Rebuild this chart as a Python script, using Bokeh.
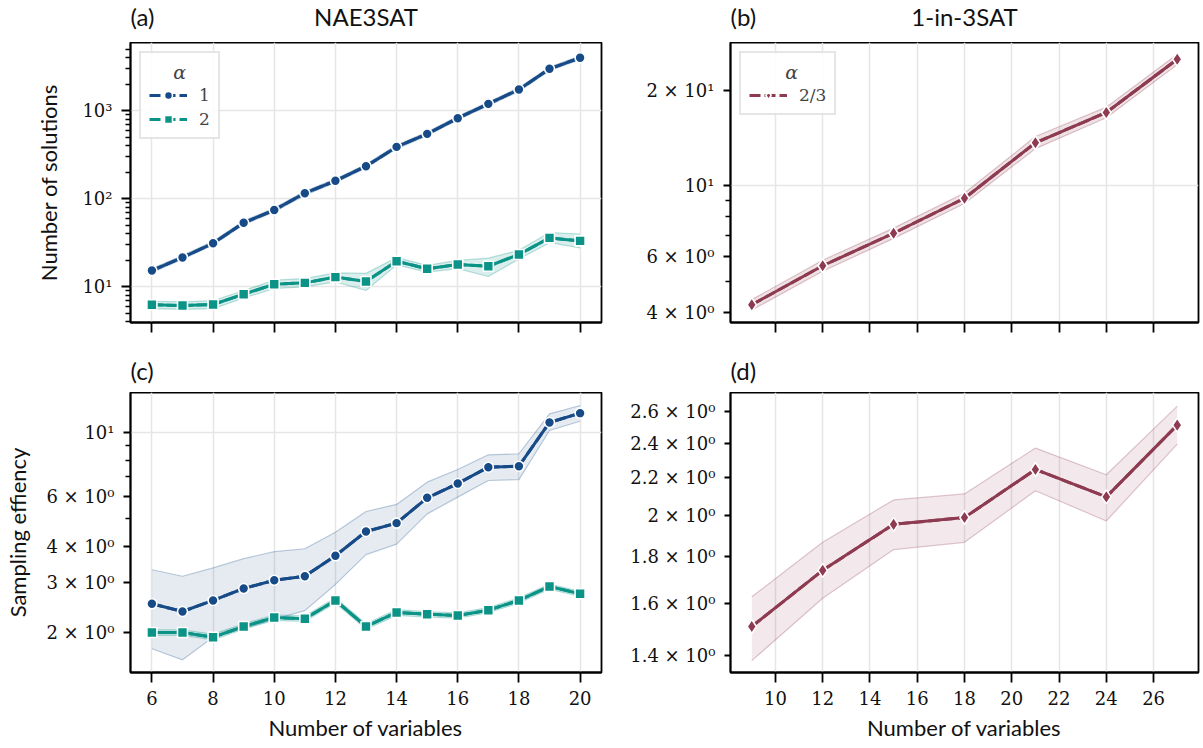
from bokeh.plotting import figure
from bokeh.models import FixedTicker, Range1d, Legend, LegendItem, Label
from bokeh.layouts import gridplot
from bokeh.embed import file_html
from bokeh.resources import INLINE

# ---------------- data ----------------
nae_n = [6, 7, 8, 9, 10, 11, 12, 13, 14, 15, 16, 17, 18, 19, 20]
# (a) number of solutions, NAE3SAT
sol_a1 = [15.2, 21.4, 31.0, 53.0, 74.0, 115, 159, 233, 386, 543, 818, 1191, 1733, 2978, 3975]
sol_a1_lo = [14.4, 20.4, 29.6, 50.5, 70.5, 109, 151, 222, 367, 517, 779, 1134, 1650, 2836, 3786]
sol_a1_hi = [16.0, 22.5, 32.6, 55.7, 77.8, 121, 167, 245, 405, 570, 859, 1251, 1820, 3127, 4174]
sol_a2 = [6.2, 6.08, 6.24, 8.18, 10.6, 11.0, 12.8, 11.4, 19.4, 15.9, 17.8, 17.0, 23.1, 35.7, 33.0]
sol_a2_lo = [5.6, 5.5, 5.6, 7.4, 9.5, 9.9, 11.3, 9.0, 17.6, 14.6, 16.0, 13.0, 20.5, 31.5, 27.5]
sol_a2_hi = [6.8, 6.7, 6.9, 9.0, 11.8, 12.3, 14.3, 14.1, 21.3, 17.4, 19.8, 21.0, 25.8, 41.0, 39.5]
# (c) sampling efficiency, NAE3SAT
eff_a1 = [2.525, 2.374, 2.594, 2.855, 3.052, 3.152, 3.714, 4.514, 4.827, 5.918, 6.637, 7.568, 7.629, 10.84, 11.68]
eff_a1_lo = [1.76, 1.61, 1.93, 2.07, 2.23, 2.39, 2.95, 3.75, 4.08, 5.20, 5.95, 6.80, 6.85, 10.16, 10.95]
eff_a1_hi = [3.32, 3.15, 3.37, 3.63, 3.84, 3.93, 4.49, 5.30, 5.61, 6.71, 7.43, 8.36, 8.43, 11.62, 12.42]
eff_a2 = [2.005, 2.005, 1.931, 2.104, 2.262, 2.238, 2.594, 2.104, 2.355, 2.323, 2.299, 2.399, 2.594, 2.902, 2.737]
eff_a2_lo = [1.96, 1.96, 1.89, 2.06, 2.21, 2.19, 2.54, 2.06, 2.30, 2.27, 2.25, 2.35, 2.54, 2.84, 2.68]
eff_a2_hi = [2.05, 2.05, 1.98, 2.15, 2.31, 2.29, 2.65, 2.15, 2.41, 2.37, 2.35, 2.45, 2.65, 2.96, 2.79]

one_n = [9, 12, 15, 18, 21, 24, 27]
# (b) number of solutions, 1-in-3SAT
sol_b = [4.22, 5.60, 7.09, 9.14, 13.67, 17.03, 25.06]
sol_b_lo = [4.06, 5.38, 6.83, 8.80, 13.1, 16.4, 24.1]
sol_b_hi = [4.38, 5.83, 7.36, 9.50, 14.3, 17.7, 26.0]
# (d) sampling efficiency, 1-in-3SAT
eff_b = [1.508, 1.739, 1.954, 1.988, 2.246, 2.095, 2.513]
eff_b_lo = [1.383, 1.62, 1.833, 1.867, 2.128, 1.971, 2.395]
eff_b_hi = [1.626, 1.867, 2.079, 2.111, 2.371, 2.216, 2.637]

# axis limits and ticks
nae_xlim = (5.3, 20.7)
one_xlim = (8.1, 27.9)
ylim_a = (3.9, 5930)
ylim_b = (3.71, 28.3)
ylim_c = (1.454, 13.79)
ylim_d = (1.342, 2.730)
nae_xticks = [6, 8, 10, 12, 14, 16, 18, 20]
one_xticks = [10, 12, 14, 16, 18, 20, 22, 24, 26]
ticks_a = {10: "10¹", 100: "10²", 1000: "10³"}
minor_a = [4, 5, 6, 7, 8, 9, 20, 30, 40, 50, 60, 70, 80, 90,
           200, 300, 400, 500, 600, 700, 800, 900, 2000, 3000, 4000, 5000]
ticks_b = {4: "4 × 10⁰", 6: "6 × 10⁰", 10: "10¹", 20: "2 × 10¹"}
minor_b = [5, 7, 8, 9]
ticks_c = {2: "2 × 10⁰", 3: "3 × 10⁰", 4: "4 × 10⁰", 6: "6 × 10⁰", 10: "10¹"}
minor_c = [5, 7, 8, 9]
ticks_d = {1.4: "1.4 × 10⁰", 1.6: "1.6 × 10⁰", 1.8: "1.8 × 10⁰", 2.0: "2 × 10⁰",
           2.2: "2.2 × 10⁰", 2.4: "2.4 × 10⁰", 2.6: "2.6 × 10⁰"}

BLUE = "#174b88"
TEAL = "#0a9386"
MAROON = "#8e3b52"
SANS = "Lato"
SERIF = "DejaVu Serif"
NB = "\u00a0"

LW, RW = 615, 585           # column widths
LB, RB = 130, 115           # left borders
LR, RR = 14, 2              # right borders
TOP_H, BOT_H = 313, 352     # main figure heights
T1_H, T2_H = 42, 37         # title strip heights


def make_fig(w, h, xr, yr, bl, br, bb, xticks, yticks, yminor, ygrid, ytick_len):
    p = figure(width=w, height=h, x_range=Range1d(*xr), y_range=Range1d(*yr),
               y_axis_type="log", output_backend="svg", toolbar_location=None,
               min_border_left=bl, min_border_right=br, min_border_top=0,
               min_border_bottom=bb)
    p.outline_line_color = "black"
    p.outline_line_width = 1.8
    p.background_fill_color = "white"
    p.border_fill_color = "white"
    p.xaxis.ticker = FixedTicker(ticks=xticks)
    p.yaxis.ticker = FixedTicker(ticks=list(yticks.keys()), minor_ticks=yminor)
    p.yaxis.major_label_overrides = dict(yticks)
    for ax in p.xaxis + p.yaxis:
        ax.axis_line_color = "black"
        ax.axis_line_width = 1.8
        ax.major_tick_in = 0
        ax.minor_tick_in = 0
        ax.minor_tick_out = 5
        ax.major_tick_line_width = 1.8
        ax.minor_tick_line_width = 1.3
        ax.major_label_text_font = SERIF
        ax.major_label_text_font_size = "18px"
        ax.major_label_text_color = "#111111"
        ax.axis_label_text_font = SANS
        ax.axis_label_text_font_size = "22px"
        ax.axis_label_text_font_style = "normal"
        ax.axis_label_text_color = "#111111"
    p.xaxis.major_tick_out = 10
    p.xaxis.major_label_standoff = 8
    p.xaxis.axis_label_standoff = 6
    p.yaxis.major_tick_out = ytick_len
    p.yaxis.major_label_standoff = 9
    p.yaxis.axis_label_standoff = 12
    p.xaxis.minor_tick_line_color = None
    p.xgrid.ticker = FixedTicker(ticks=xticks)
    p.xgrid.grid_line_color = "#e6e6e6"
    p.xgrid.grid_line_width = 1.5
    if ygrid:
        p.ygrid.ticker = FixedTicker(ticks=ygrid)
        p.ygrid.grid_line_color = "#e6e6e6"
        p.ygrid.grid_line_width = 1.5
    else:
        p.ygrid.grid_line_color = None
    return p


def title_strip(w, h, bl, br, fw, tag, name, y):
    # thin strip above a panel; gridplot aligns its frame with the panel's frame
    t = figure(width=w, height=h, x_range=Range1d(0, 1), y_range=Range1d(0, 1),
               x_axis_type=None, y_axis_type=None, output_backend="svg",
               toolbar_location=None, min_border_left=bl, min_border_right=br,
               min_border_top=0, min_border_bottom=0)
    t.outline_line_color = None
    t.background_fill_color = "white"
    t.border_fill_color = "white"
    t.add_layout(Label(x=0, y=y, x_units="screen", y_units="screen", text=tag,
                       text_font=SANS, text_font_size="24px", text_baseline="middle",
                       text_color="#111111"))
    if name:
        t.add_layout(Label(x=fw / 2, y=y, x_units="screen", y_units="screen",
                           text=name, text_font=SANS, text_font_size="24px",
                           text_align="center", text_baseline="middle",
                           text_color="#111111"))
    return t


def band(p, x, lo, hi, color, falpha):
    p.varea(x=x, y1=lo, y2=hi, fill_color=color, fill_alpha=falpha)
    p.line(x, lo, line_color=color, line_alpha=0.28, line_width=1.2)
    p.line(x, hi, line_color=color, line_alpha=0.28, line_width=1.2)


def series(p, x, y, color, marker, size):
    # dashed twin, hidden under the solid line; used for the legend glyph
    dashed = p.line(x, y, line_color=color, line_width=3, line_dash="11 4")
    p.line(x, y, line_color=color, line_width=3)
    pts = p.scatter(x, y, marker=marker, size=size, fill_color=color,
                    line_color="white", line_width=1.6)
    return [dashed, pts]


def legend(p, items, title, label_w):
    lg = Legend(items=items, location="top_left", title=title,
                title_text_font=SERIF, title_text_font_style="italic",
                title_text_font_size="19px", title_standoff=2,
                label_text_font=SERIF, label_text_font_size="17px",
                border_line_color="#cccccc", border_line_width=2.5,
                background_fill_color="white", background_fill_alpha=0.85,
                glyph_width=38, glyph_height=20, label_standoff=12,
                label_width=label_w, padding=8, spacing=4, margin=9)
    p.add_layout(lg)


FW_L = LW - LB - LR
FW_R = RW - RB - RR

# (a)
pa = make_fig(LW, TOP_H, nae_xlim, ylim_a, LB, LR, 33, nae_xticks, ticks_a, minor_a,
              [10, 100, 1000], 9)
band(pa, nae_n, sol_a1_lo, sol_a1_hi, BLUE, 0.15)
band(pa, nae_n, sol_a2_lo, sol_a2_hi, TEAL, 0.15)
ra1 = series(pa, nae_n, sol_a1, BLUE, "circle", 10)
ra2 = series(pa, nae_n, sol_a2, TEAL, "square", 10)
pa.yaxis.axis_label = "Number of solutions"
pa.yaxis.axis_label_standoff = 17
pa.xaxis.major_label_text_color = None
pa.xaxis.major_label_standoff = 0
legend(pa, [LegendItem(label="1", renderers=ra1), LegendItem(label="2", renderers=ra2)],
       NB * 4 + "α", 8)

# (b)
pb = make_fig(RW, TOP_H, one_xlim, ylim_b, RB, RR, 33, one_xticks, ticks_b, minor_b, [10], 7)
band(pb, one_n, sol_b_lo, sol_b_hi, MAROON, 0.15)
rb = series(pb, one_n, sol_b, MAROON, "diamond", 14)
pb.xaxis.major_label_text_color = None
pb.xaxis.major_label_standoff = 0
legend(pb, [LegendItem(label="2/3", renderers=rb)], NB * 6 + "α", 20)

# (c)
pc = make_fig(LW, BOT_H, nae_xlim, ylim_c, LB, LR, 72, nae_xticks, ticks_c, minor_c, [10], 7)
band(pc, nae_n, eff_a1_lo, eff_a1_hi, BLUE, 0.11)
band(pc, nae_n, eff_a2_lo, eff_a2_hi, TEAL, 0.15)
series(pc, nae_n, eff_a1, BLUE, "circle", 10)
series(pc, nae_n, eff_a2, TEAL, "square", 10)
pc.yaxis.axis_label = "Sampling effiency"
pc.xaxis.axis_label = "Number of variables"

# (d)
pd = make_fig(RW, BOT_H, one_xlim, ylim_d, RB, RR, 72, one_xticks, ticks_d, [], None, 6)
band(pd, one_n, eff_b_lo, eff_b_hi, MAROON, 0.11)
series(pd, one_n, eff_b, MAROON, "diamond", 14)
pd.xaxis.axis_label = "Number of variables"

ta = title_strip(LW, T1_H, LB, LR, FW_L, "(a)", "NAE3SAT", 26)
tb = title_strip(RW, T1_H, RB, RR, FW_R, "(b)", "1-in-3SAT", 26)
tc = title_strip(LW, T2_H, LB, LR, FW_L, "(c)", None, 22)
td = title_strip(RW, T2_H, RB, RR, FW_R, "(d)", None, 22)

grid = gridplot([[ta, tb], [pa, pb], [tc, td], [pc, pd]], toolbar_location=None)
open("out.html", "w").write(file_html(grid, INLINE))
